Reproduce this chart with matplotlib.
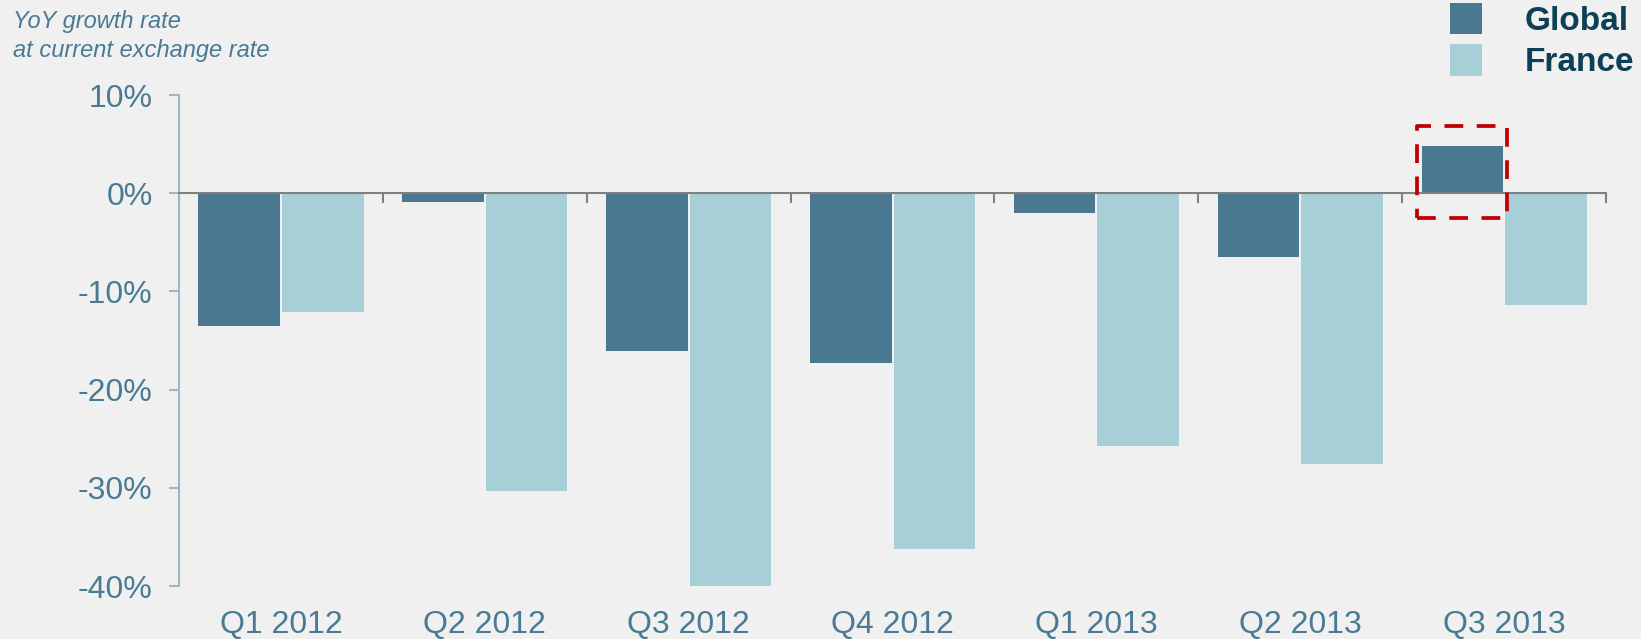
import matplotlib.pyplot as plt
from matplotlib.patches import Rectangle
from matplotlib.ticker import FuncFormatter

# data
quarters = ["Q1 2012", "Q2 2012", "Q3 2012", "Q4 2012", "Q1 2013", "Q2 2013", "Q3 2013"]
global_growth = [-13.5, -0.9, -16.1, -17.3, -2.0, -6.5, 4.8]
france_growth = [-12.1, -30.3, -40.3, -36.2, -25.7, -27.6, -11.4]
highlight_idx = 6

col_global = "#4A7890"
col_france = "#A6CFD8"
col_text = "#4A7A93"
col_legend = "#0D3F56"
bg = "#F0F0F0"

plt.rcParams["font.family"] = ["Liberation Sans", "DejaVu Sans"]

fig = plt.figure(figsize=(16.41, 6.39), dpi=100, facecolor=bg)
ax = fig.add_axes([0.1091, 0.0829, 0.9787 - 0.1091, 0.8513 - 0.0829])
ax.set_facecolor(bg)

x = list(range(len(quarters)))
w = 0.40
off = 0.205
bars_g = ax.bar([i - off for i in x], global_growth, w, color=col_global,
                label="Global", zorder=2)
bars_f = ax.bar([i + off for i in x], france_growth, w, color=col_france,
                label="France", zorder=2)

ax.set_xlim(-0.5, len(quarters) - 0.5)
ax.set_ylim(-40, 10)

# y axis
ax.set_yticks([10, 0, -10, -20, -30, -40])
ax.yaxis.set_major_formatter(FuncFormatter(lambda v, p: "%d%%" % v))
ax.tick_params(axis="y", direction="out", length=7, width=1.5, color="#A3B5C1",
               labelsize=23, labelcolor=col_text, pad=12)
ax.spines["left"].set_color("#A3B5C1")
ax.spines["left"].set_linewidth(1.5)
for s in ["top", "right"]:
    ax.spines[s].set_visible(False)

# x axis line at zero with boundary ticks
ax.spines["bottom"].set_position(("data", 0))
ax.spines["bottom"].set_color("#808080")
ax.spines["bottom"].set_linewidth(1.5)
ax.spines["bottom"].set_zorder(3)
ax.set_xticks([i - 0.5 for i in range(len(quarters) + 1)])
ax.set_xticklabels([])
ax.tick_params(axis="x", direction="out", length=7, width=1.5, color="#808080")

# category labels at the bottom
sec = ax.secondary_xaxis(0)
sec.set_xticks(x)
sec.set_xticklabels(quarters)
sec.tick_params(length=0, labelsize=23, labelcolor=col_text, pad=17)
sec.spines["bottom"].set_visible(False)

# highlight box around the last global bar
hx = highlight_idx - off
rect = Rectangle((hx - w / 2 - 0.02, -2.5), w + 0.04,
                 global_growth[highlight_idx] + 2.0 + 2.5,
                 fill=False, edgecolor="#C00000", linewidth=2.7,
                 linestyle=(0, (5, 3.6)), joinstyle="round", zorder=4,
                 clip_on=False)
ax.add_patch(rect)

# note top left
fig.text(0.008, 1 - 28 / 639, "YoY growth rate", ha="left", va="baseline",
         fontsize=17, style="italic", color=col_text)
fig.text(0.008, 1 - 57 / 639, "at current exchange rate", ha="left", va="baseline",
         fontsize=17, style="italic", color=col_text)

leg = fig.legend(handles=[bars_g, bars_f], loc="upper left",
                 bbox_to_anchor=(0.8836, 0.996), frameon=False,
                 prop={"size": 24, "weight": "bold"}, labelcolor=col_legend,
                 handlelength=0.95, handleheight=1.08, handletextpad=1.3,
                 labelspacing=0.22, borderpad=0, borderaxespad=0)

fig.savefig("out.png", dpi=100, facecolor=bg)
